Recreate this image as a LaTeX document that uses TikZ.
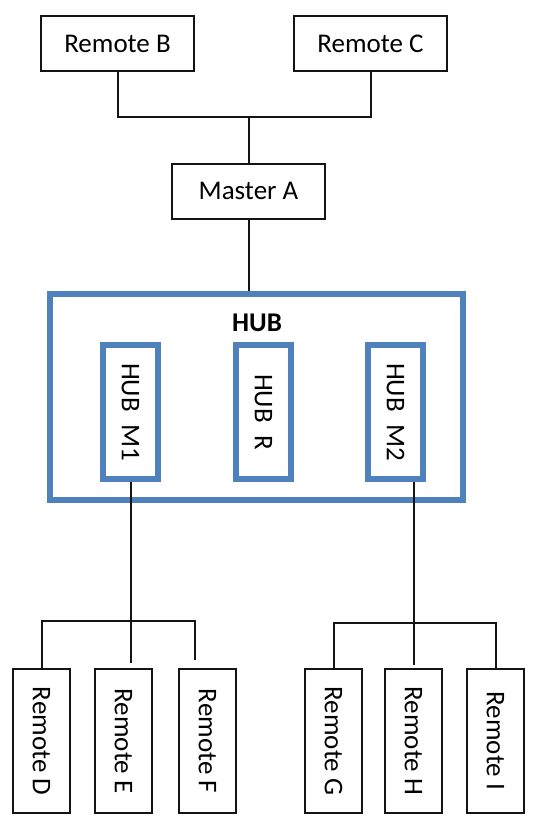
\documentclass[tikz,border=0pt]{standalone}
\usepackage{fontspec}
\setmainfont{Carlito}
\definecolor{hubblue}{RGB}{79,129,189}
\definecolor{ink}{RGB}{20,20,20}
\tikzset{
  unit/.style={draw=ink,line width=1pt,minimum width=76.5pt,minimum height=27.5pt,
    inner sep=0pt,font=\fontsize{13.5}{16}\selectfont},
  remote/.style={draw=ink,line width=1pt,minimum width=28.5pt,minimum height=72pt,
    inner sep=0pt,font=\fontsize{13.5}{16}\selectfont},
  hub/.style={draw=hubblue,line width=3pt,minimum width=206.5pt,minimum height=103pt,inner sep=0pt},
  port/.style={draw=hubblue,line width=3.25pt,minimum width=27.5pt,minimum height=67pt,
    inner sep=0pt,font=\fontsize{13.5}{16}\selectfont},
  wire/.style={draw=ink,line width=1pt},
}
\begin{document}
\begin{tikzpicture}[x=0.5pt,y=-0.5pt]
  \useasboundingbox[fill=white] (0,0) rectangle (541,827);
  \node[unit] (rb) at (117.5,43.5) {Remote B};
  \node[unit] (rc) at (370.5,43.5) {Remote C};
  \node[unit] (ma) at (248.5,191) {Master A};
  \node[hub] (hub) at (256.5,397) {};
  \node[font=\fontsize{13.5}{16}\selectfont\bfseries] (hubt) at (257,323) {HUB};
  \foreach \n/\t/\x in {m1/HUB\ \ M1/130.5,r/HUB\ \ R/263.5,m2/HUB\ \ M2/395.5}
    \node[port] (\n) at (\x,412) {\rotatebox{-90}{\t}};
  \foreach \l/\x in {D/41.5,E/123.5,F/207.5,G/333.5,H/413.5,I/495.5}
    \node[remote] (r\l) at (\x,741) {\rotatebox{-90}{Remote \l}};
  % links
  \coordinate (jt) at (248.5,117);
  \coordinate (jl) at (130.5,621);
  \coordinate (jr) at (413.5,623);
  \draw[wire] (rb.south) |- (jt) -| (rc.south);
  \draw[wire] (jt) -- (ma.north);
  \draw[wire] (ma.south) -- (ma.south |- hub.north);
  \draw[wire] (m1.south) -- (jl);
  \draw[wire] (rD.north) |- (jl);
  \draw[wire,shorten >=2.5pt] (jl) -- (jl |- rE.north);
  \draw[wire,shorten >=4pt] (jl) -| ([xshift=-6.25pt]rF.north);
  \draw[wire,shorten >=1.5pt] (m2.south -| rH.north) -- (rH.north);
  \draw[wire] (rG.north) |- (jr) -| (rI.north);
\end{tikzpicture}
\end{document}
